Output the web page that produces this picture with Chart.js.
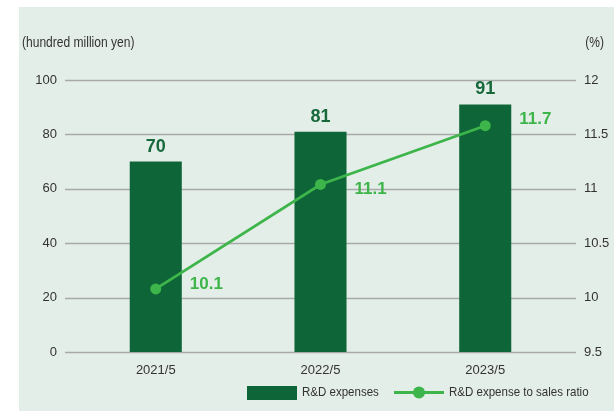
<!DOCTYPE html>
<html>
<head>
<meta charset="utf-8">
<script src="https://cdn.jsdelivr.net/npm/chart.js@4.4.0/dist/chart.umd.min.js"></script>
<style>
  html, body { margin: 0; padding: 0; background: #ffffff; }
  #wrap { position: relative; width: 614px; height: 411px; }
  canvas { display: block; }
</style>
</head>
<body>
<div id="wrap"><canvas id="c" width="614" height="411"></canvas></div>
<script>
// ---- data ----
const categories = ['2021/5', '2022/5', '2023/5'];
const rdExpenses = [70, 81, 91];
const salesRatio = [10.08, 11.04, 11.58];
const ratioLabels = ['10.1', '11.1', '11.7'];
const leftAxisRange = [0, 100, 20];
const rightAxisRange = [9.5, 12, 0.5];
const leftUnit = '(hundred million yen)';
const rightUnit = '(%)';
const seriesNames = ['R&D expenses', 'R&D expense to sales ratio'];

// ---- styles ----
const BAR_COLOR = '#0e6638';
const LINE_COLOR = '#3db54a';
const BG_COLOR = '#e4eee8';
const GRID_COLOR = '#a8aaa9';
const TEXT_COLOR = '#333333';
const SANS = "'Liberation Sans', Arial, sans-serif";
const CONDENSE = 0.86;

function narrowText(ctx, text, x, y, align) {
  const w = ctx.measureText(text).width * CONDENSE;
  let left = x;
  if (align === 'right') left = x - w;
  else if (align === 'center') left = x - w / 2;
  ctx.save();
  ctx.textAlign = 'left';
  ctx.translate(left, y);
  ctx.scale(CONDENSE, 1);
  ctx.fillText(text, 0, 0);
  ctx.restore();
}

const decor = {
  id: 'decor',
  beforeDraw(chart) {
    const ctx = chart.ctx;
    ctx.save();
    ctx.fillStyle = BG_COLOR;
    ctx.fillRect(19, 7, 614 - 19, 411 - 7);
    ctx.restore();
  },
  beforeDatasetsDraw(chart) {
    const ctx = chart.ctx;
    const y = chart.scales.y;
    ctx.save();
    ctx.strokeStyle = GRID_COLOR;
    ctx.lineWidth = 1.4;
    y.ticks.forEach((t) => {
      const py = Math.round(y.getPixelForValue(t.value)) + 0.5;
      ctx.beginPath();
      ctx.moveTo(65, py);
      ctx.lineTo(576, py);
      ctx.stroke();
    });
    ctx.restore();
  },
  afterDatasetsDraw(chart, args, opts) {
    const ctx = chart.ctx;
    ctx.save();
    const metas = chart.getSortedVisibleDatasetMetas();
    const barMeta = metas.find(m => m.type === 'bar');
    const lineMeta = metas.find(m => m.type === 'line');
    // bar value labels
    ctx.fillStyle = '#17693c';
    ctx.font = 'bold 18px ' + SANS;
    ctx.textAlign = 'center';
    ctx.textBaseline = 'middle';
    barMeta.data.forEach((el, i) => {
      ctx.fillText(String(rdExpenses[i]), el.x, el.y - 15);
    });
    // line value labels
    ctx.fillStyle = LINE_COLOR;
    ctx.font = 'bold 17px ' + SANS;
    ctx.textAlign = 'left';
    lineMeta.data.forEach((el, i) => {
      ctx.fillText(ratioLabels[i], el.x + 34, el.y + opts.labelDy[i]);
    });
    ctx.restore();
  },
  afterDraw(chart) {
    const ctx = chart.ctx;
    ctx.save();
    ctx.fillStyle = TEXT_COLOR;
    ctx.font = '14px ' + SANS;
    ctx.textBaseline = 'middle';
    narrowText(ctx, leftUnit, 22, 43, 'left');
    narrowText(ctx, rightUnit, 604, 43, 'right');

    // legend
    const ly = 392.5;
    ctx.font = '13.4px ' + SANS;
    ctx.fillStyle = BAR_COLOR;
    ctx.fillRect(247, 386, 50, 14);
    ctx.fillStyle = TEXT_COLOR;
    narrowText(ctx, seriesNames[0], 302, ly, 'left');

    ctx.strokeStyle = LINE_COLOR;
    ctx.lineWidth = 3;
    ctx.beginPath();
    ctx.moveTo(394, ly);
    ctx.lineTo(444, ly);
    ctx.stroke();
    ctx.fillStyle = LINE_COLOR;
    ctx.beginPath();
    ctx.arc(419, ly, 6, 0, Math.PI * 2);
    ctx.fill();
    ctx.fillStyle = TEXT_COLOR;
    narrowText(ctx, seriesNames[1], 449, ly, 'left');
    ctx.restore();
  }
};

new Chart(document.getElementById('c'), {
  data: {
    labels: categories,
    datasets: [
      {
        type: 'line',
        label: seriesNames[1],
        data: salesRatio,
        yAxisID: 'y1',
        borderColor: LINE_COLOR,
        backgroundColor: LINE_COLOR,
        borderWidth: 2.8,
        pointRadius: 5.5,
        pointHoverRadius: 5.5,
        pointBackgroundColor: LINE_COLOR,
        pointBorderWidth: 0,
        tension: 0,
        order: 0
      },
      {
        type: 'bar',
        label: seriesNames[0],
        data: rdExpenses,
        yAxisID: 'y',
        backgroundColor: BAR_COLOR,
        borderWidth: 0,
        barPercentage: 0.316,
        categoryPercentage: 1,
        order: 1
      }
    ]
  },
  options: {
    responsive: false,
    animation: false,
    events: [],
    layout: { padding: { top: 80, bottom: 29, left: 0, right: 0 } },
    plugins: {
      legend: { display: false },
      tooltip: { enabled: false },
      decor: { labelDy: [-5, 5, -6] }
    },
    scales: {
      x: {
        grid: { display: false, drawTicks: false },
        border: { display: false },
        ticks: { color: TEXT_COLOR, font: { family: SANS, size: 13 }, padding: 11 },
        afterFit(s) { s.height = 30; }
      },
      y: {
        position: 'left',
        min: leftAxisRange[0],
        max: leftAxisRange[1],
        ticks: { stepSize: leftAxisRange[2], color: TEXT_COLOR, font: { family: SANS, size: 13 }, padding: 16.4 },
        grid: { display: false, drawTicks: false },
        border: { display: false },
        afterFit(s) { s.width = 73.4; }
      },
      y1: {
        position: 'right',
        min: rightAxisRange[0],
        max: rightAxisRange[1],
        ticks: {
          stepSize: rightAxisRange[2],
          color: TEXT_COLOR,
          font: { family: SANS, size: 13 },
          padding: 16.4,
          callback: (v) => String(Number(v))
        },
        grid: { display: false, drawTicks: false },
        border: { display: false },
        afterFit(s) { s.width = 46.4; }
      }
    }
  },
  plugins: [decor]
});
</script>
</body>
</html>
